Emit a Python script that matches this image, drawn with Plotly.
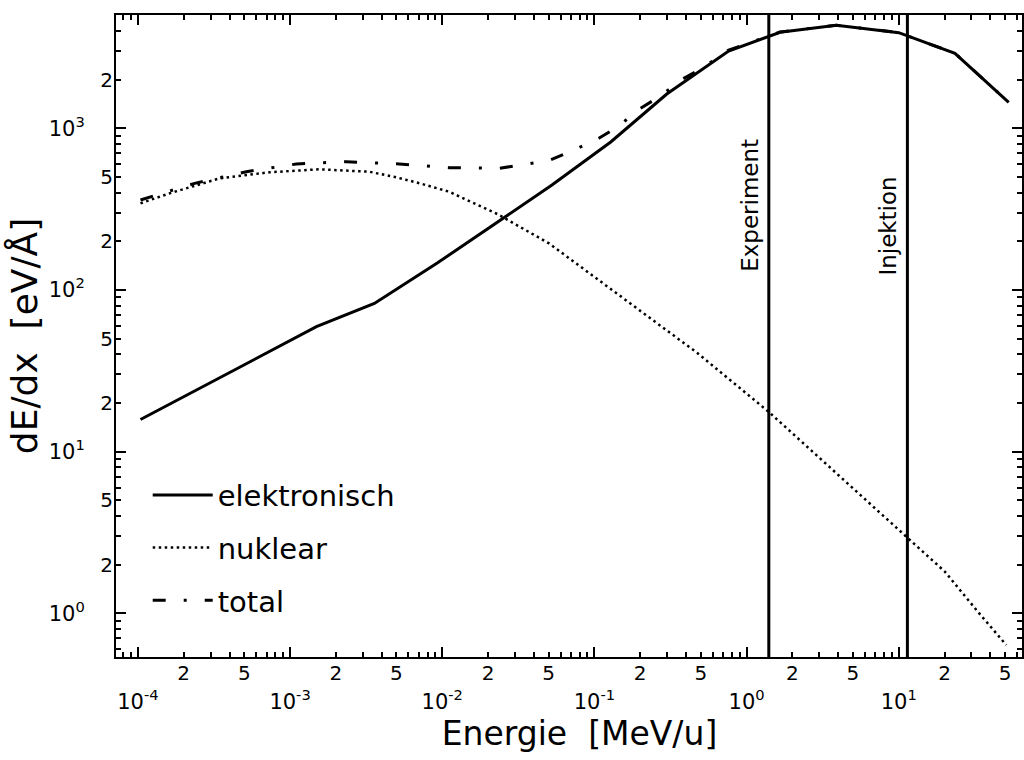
import numpy as np
import plotly.graph_objects as go

# ---------------- data ----------------
energy_elec = [1.04e-4, 1.49e-3, 3.58e-3, 9.27e-3, 0.0526, 0.128, 0.299, 0.762,
               1.66, 3.89, 10.0, 23.4, 52.8]
dedx_elec = [15.8, 59.2, 82.5, 146.6, 445, 822, 1627, 3000,
             3918, 4329, 3896, 2904, 1446]

energy_nucl = [1.04e-4, 1.62e-4, 3.45e-4, 7.34e-4, 1.56e-3, 3.32e-3, 4.97e-3,
               6.89e-3, 0.0111, 0.0231, 0.0503, 0.107, 0.228, 0.472, 1.39,
               3.28, 11.4, 20.1, 33.2, 50.9]
dedx_nucl = [343, 396, 490, 534, 557, 538, 497, 460, 405, 294, 194, 115,
             68.3, 40.9, 17.7, 8.47, 2.91, 1.81, 1.02, 0.637]

energy_total = [1.04e-4, 2.36e-4, 5.16e-4, 1.10e-3, 2.34e-3, 5.22e-3, 0.0111,
                0.0236, 0.0503, 0.0715, 0.107, 0.145, 0.196, 0.272, 0.377,
                0.509, 0.762, 1.66, 3.89, 10.0, 23.4, 52.8]
dedx_total = [360, 456, 538, 601, 621, 601, 570, 565, 630, 726, 866, 1032,
              1309, 1582, 2006, 2346, 3040, 3935, 4338, 3899, 2906, 1447]

marker_energies = [1.4, 11.4]
marker_labels = ["Experiment", "Injektion"]
marker_label_y = [0.704, 0.671]

series_names = ["elektronisch", "nuklear", "total"]

x_decades = [-4, -3, -2, -1, 0, 1]
y_decades = [0, 1, 2, 3]

FONT = "DejaVu Sans"

# ---------------- tick helpers ----------------
x_major = [10.0 ** d for d in x_decades]
x_major_text = ["10<sup>%d</sup>" % d for d in x_decades]
x_minor = [m * 10.0 ** d for d in range(-5, 2) for m in range(2, 10)]
x_mid = [m * 10.0 ** d for d in x_decades for m in (2, 5)]
x_mid_text = [str(m) for d in x_decades for m in (2, 5)]

y_major = [10.0 ** d for d in y_decades]
y_major_text = ["10<sup>%d</sup>" % d for d in y_decades]
y_minor = [m * 10.0 ** d for d in range(-1, 4) for m in range(2, 10)]
y_mid = [m * 10.0 ** d for d in y_decades for m in (2, 5) if m * 10.0 ** d < 4000]
y_mid_text = [str(m) for d in y_decades for m in (2, 5) if m * 10.0 ** d < 4000]

xr = [-4.144, 1.81]
yr = [-0.27, 3.70]

fig = go.Figure()

# total first so the solid electronic line is drawn on top of it
fig.add_trace(go.Scatter(
    x=energy_total, y=dedx_total, mode="lines", name=series_names[2],
    line=dict(color="black", width=3, dash="13px,18px,3px,18px"),
    legendrank=3, legendgroup="t"))
fig.add_trace(go.Scatter(
    x=energy_nucl, y=dedx_nucl, mode="lines", name=series_names[1],
    line=dict(color="black", width=2.5, dash="2.5px,3.5px"),
    legendrank=2, legendgroup="n"))
fig.add_trace(go.Scatter(
    x=energy_elec, y=dedx_elec, mode="lines", name=series_names[0],
    line=dict(color="black", width=3),
    legendrank=1, legendgroup="e"))

# vertical marker lines live on the overlay axes (same ranges) so those
# axes - which carry the "2" / "5" labels - are rendered
for e in marker_energies:
    fig.add_trace(go.Scatter(
        x=[e, e], y=[0.3, 8000], mode="lines", showlegend=False,
        xaxis="x2", yaxis="y2",
        line=dict(color="black", width=3), hoverinfo="skip"))

for e, lab, yy in zip(marker_energies, marker_labels, marker_label_y):
    fig.add_annotation(
        x=np.log10(e), y=yy, xref="x", yref="paper", text=lab,
        textangle=-90, showarrow=False, xanchor="center", yanchor="middle",
        xshift=-19, font=dict(family=FONT, size=23, color="black"))

axis_common = dict(showgrid=False, zeroline=False, color="black")

fig.update_layout(
    width=1024, height=760,
    margin=dict(l=116, r=0, t=15, b=103, pad=0),
    plot_bgcolor="white", paper_bgcolor="white",
    font=dict(family=FONT, color="black", size=20),
    showlegend=True,
    legend=dict(x=0.035, y=0.292, xanchor="left", yanchor="top",
                font=dict(family=FONT, size=29, color="black"),
                itemwidth=60, tracegroupgap=12, bgcolor="rgba(0,0,0,0)"),
    xaxis=dict(type="log", range=xr, tickmode="array", tickvals=x_major,
               ticktext=x_major_text, ticks="inside", ticklen=10, tickwidth=2,
               tickcolor="black", showline=True, linewidth=2,
               linecolor="black", mirror="ticks",
               tickfont=dict(family=FONT, size=21), ticklabelstandoff=25,
               minor=dict(tickmode="array", tickvals=x_minor, ticks="inside",
                          ticklen=5, tickwidth=1.5, tickcolor="black"),
               title=dict(text="&nbsp;&nbsp;Energie&nbsp; [MeV/u]",
                          font=dict(family=FONT, size=33), standoff=8),
               **axis_common),
    xaxis2=dict(type="log", range=xr, overlaying="x", anchor="y",
                side="bottom", tickmode="array", tickvals=x_mid,
                ticktext=x_mid_text, ticks="", showline=False,
                tickfont=dict(family=FONT, size=20), ticklabelstandoff=2,
                **axis_common),
    yaxis=dict(type="log", range=yr, tickmode="array", tickvals=y_major,
               ticktext=y_major_text, ticks="inside", ticklen=10, tickwidth=2,
               tickcolor="black", showline=True, linewidth=2,
               linecolor="black", mirror="ticks",
               tickfont=dict(family=FONT, size=21), ticklabelstandoff=25,
               minor=dict(tickmode="array", tickvals=y_minor, ticks="inside",
                          ticklen=5, tickwidth=1.5, tickcolor="black"),
               title=dict(text="dE/dx&nbsp; [eV/Å]",
                          font=dict(family=FONT, size=36), standoff=0),
               **axis_common),
    yaxis2=dict(type="log", range=yr, overlaying="y", anchor="x",
                side="left", tickmode="array", tickvals=y_mid,
                ticktext=y_mid_text, ticks="", showline=False,
                tickfont=dict(family=FONT, size=20), ticklabelstandoff=2,
                **axis_common),
)

fig.write_html("out.html")
